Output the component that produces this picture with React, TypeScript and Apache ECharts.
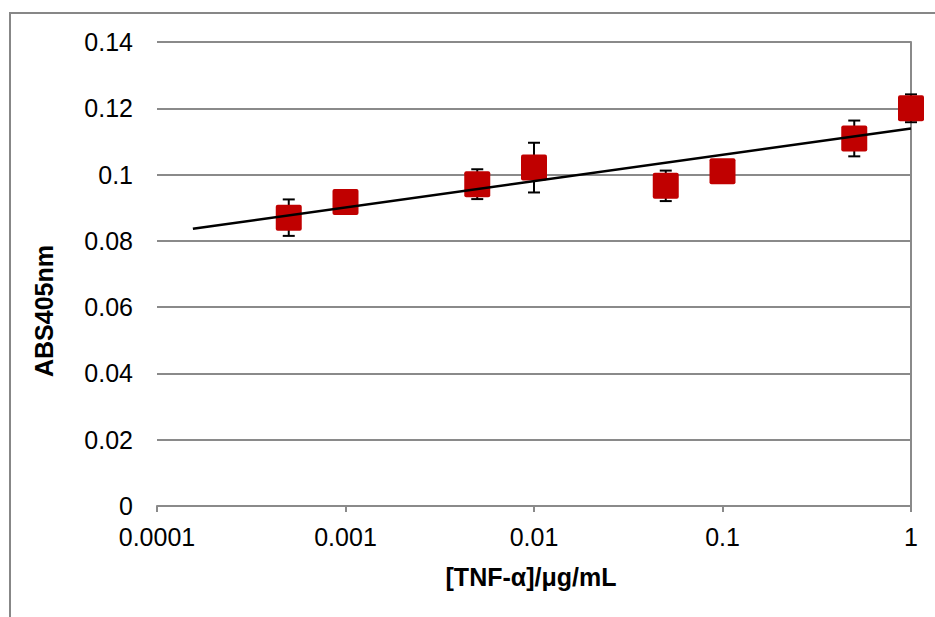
import React, { useEffect, useRef } from "react";
import * as echarts from "echarts";

const concentrations = [0.0005, 0.001, 0.005, 0.01, 0.05, 0.1, 0.5, 1];
const absMean = [0.087, 0.0917, 0.0971, 0.1021, 0.0966, 0.101, 0.1109, 0.12];
const absError = [0.0055, 0.002, 0.0045, 0.0075, 0.0046, 0.002, 0.0054, 0.0042];
const xTickLabels = ["0.0001", "0.001", "0.01", "0.1", "1"];
const yTickLabels = ["0", "0.02", "0.04", "0.06", "0.08", "0.1", "0.12", "0.14"];
const trendStart = 0.000155;
const trendEnd = 1;
const xTitle = "[TNF-α]/μg/mL";
const yTitle = "ABS405nm";

const FONT = "'Liberation Sans', Arial, sans-serif";
const GRID_COLOR = "#8a8a8a";
const SQUARE = "path://M2,0H24Q26,0 26,2V24Q26,26 24,26H2Q0,26 0,24V2Q0,0 2,0Z";

function regression(xs: number[], ys: number[]) {
  const lx = xs.map((v) => Math.log10(v));
  const n = lx.length;
  const mx = lx.reduce((a, b) => a + b, 0) / n;
  const my = ys.reduce((a, b) => a + b, 0) / n;
  let sxy = 0;
  let sxx = 0;
  for (let i = 0; i < n; i++) {
    sxy += (lx[i] - mx) * (ys[i] - my);
    sxx += (lx[i] - mx) * (lx[i] - mx);
  }
  const b = sxy / sxx;
  const a = my - b * mx;
  return (x: number) => a + b * Math.log10(x);
}

export default function App() {
  const ref = useRef<HTMLDivElement>(null);

  useEffect(() => {
    if (!ref.current) return;
    const chart = echarts.init(ref.current, undefined, { renderer: "svg" });
    const fit = regression(concentrations, absMean);
    const trendData = [
      [trendStart, fit(trendStart)],
      [trendEnd, fit(trendEnd)],
    ];

    const option: any = {
      animation: false,
      backgroundColor: "#ffffff",
      grid: { left: 157, right: 24, top: 42, bottom: 111 },
      xAxis: {
        type: "log",
        logBase: 10,
        min: 0.0001,
        max: 1,
        interval: 1,
        axisLine: { show: true, lineStyle: { color: GRID_COLOR, width: 2 } },
        axisTick: { show: true, length: 6, lineStyle: { color: GRID_COLOR, width: 2 } },
        minorTick: { show: false },
        splitLine: { show: false },
        axisLabel: {
          margin: 18,
          fontFamily: FONT,
          fontSize: 25,
          color: "#000",
          formatter: (v: number) => {
            const idx = Math.round(Math.log10(v)) + 4;
            return xTickLabels[idx] ?? "";
          },
        },
      },
      yAxis: [
        {
          type: "value",
          min: 0,
          max: 0.14,
          interval: 0.02,
          axisLine: { show: false },
          axisTick: { show: false },
          splitLine: { show: true, lineStyle: { color: GRID_COLOR, width: 2 } },
          axisLabel: {
            margin: 24,
            fontFamily: FONT,
            fontSize: 25,
            color: "#000",
            formatter: (v: number) => yTickLabels[Math.round(v / 0.02)] ?? "",
          },
        },
        {
          type: "value",
          position: "right",
          min: 0,
          max: 0.14,
          interval: 0.02,
          axisLine: { show: true, lineStyle: { color: GRID_COLOR, width: 2 } },
          axisTick: { show: false },
          axisLabel: { show: false },
          splitLine: { show: false },
        },
      ],
      graphic: [
        {
          type: "rect",
          z: -10,
          silent: true,
          shape: { x: 10, y: 13, width: 1000, height: 1000 },
          style: { fill: "none", stroke: "#878787", lineWidth: 2 },
        },
        {
          type: "text",
          x: 531,
          y: 577,
          style: {
            text: xTitle,
            fontFamily: FONT,
            fontSize: 25,
            fontWeight: "bold",
            fill: "#000",
            align: "center",
            verticalAlign: "middle",
          },
        },
        {
          type: "text",
          x: 44,
          y: 311,
          rotation: Math.PI / 2,
          style: {
            text: yTitle,
            fontFamily: FONT,
            fontSize: 25,
            fontWeight: "bold",
            fill: "#000",
            align: "center",
            verticalAlign: "middle",
          },
        },
      ],
      series: [
        {
          type: "custom",
          name: "error",
          clip: false,
          z: 2,
          data: concentrations.map((c, i) => [c, absMean[i] - absError[i], absMean[i] + absError[i]]),
          encode: { x: 0, y: [1, 2] },
          renderItem: (params: any, api: any) => {
            const x = api.value(0);
            const lo = api.value(1);
            const hi = api.value(2);
            const pHi = api.coord([x, hi]);
            const pLo = api.coord([x, lo]);
            const cap = 6;
            const st = { stroke: "#000", lineWidth: 2 };
            return {
              type: "group",
              children: [
                { type: "line", shape: { x1: pHi[0], y1: pHi[1], x2: pLo[0], y2: pLo[1] }, style: st },
                { type: "line", shape: { x1: pHi[0] - cap, y1: pHi[1], x2: pHi[0] + cap, y2: pHi[1] }, style: st },
                { type: "line", shape: { x1: pLo[0] - cap, y1: pLo[1], x2: pLo[0] + cap, y2: pLo[1] }, style: st },
              ],
            };
          },
        },
        {
          type: "scatter",
          name: "ABS405nm",
          clip: false,
          z: 3,
          symbol: SQUARE,
          symbolSize: 26,
          itemStyle: { color: "#C00000", opacity: 1 },
          data: concentrations.map((c, i) => [c, absMean[i]]),
        },
        {
          type: "line",
          name: "trend",
          z: 4,
          showSymbol: false,
          symbol: "none",
          clip: false,
          lineStyle: { color: "#000", width: 2.5 },
          data: trendData,
        },
      ],
    };

    chart.setOption(option);
    return () => chart.dispose();
  }, []);

  return (
    <div
      ref={ref}
      style={{ position: "absolute", left: 0, top: 0, width: 935, height: 617 }}
    />
  );
}
